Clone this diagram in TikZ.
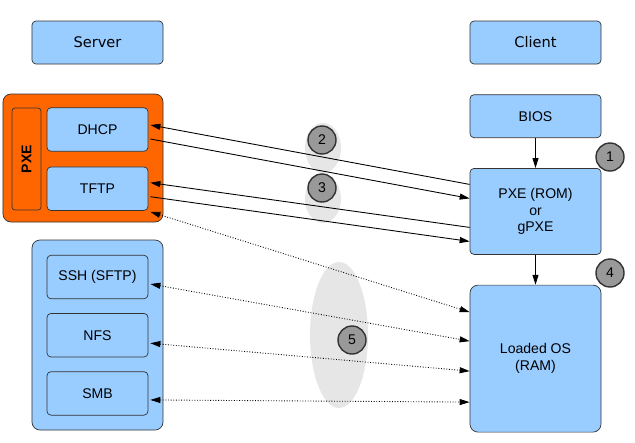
\documentclass[tikz,border=0pt]{standalone}
\usepackage{fontspec}
\setmainfont{Liberation Sans}
\newfontfamily\headfont{DejaVu Sans}
\usepackage{xcolor}
\usepackage{tikz}
\usetikzlibrary{arrows.meta, positioning}

\definecolor{boxblue}{HTML}{99CCFF}
\definecolor{pxeorange}{HTML}{FF6600}
\definecolor{stepgray}{HTML}{999999}
\definecolor{hazegray}{HTML}{E6E6E6}
\definecolor{edgegray}{HTML}{333333}

\begin{document}
\begin{tikzpicture}[x=0.2mm, y=-0.2mm, font=\fontsize{8}{9.5}\selectfont]
\tikzstyle{block} = [rectangle, draw=edgegray, fill=boxblue, minimum width=26.2mm, minimum height=8.6mm, rounded corners=0.8mm, align=center, inner sep=0pt]
\tikzstyle{service} = [block, minimum width=20.2mm, minimum height=8.7mm]
\tikzstyle{head} = [block, font=\headfont\fontsize{8.3}{10}\selectfont]
\tikzstyle{group} = [rectangle, draw=edgegray, rounded corners=1.6mm, inner sep=0pt]
\tikzstyle{marker} = [circle, draw=edgegray, thick, fill=stepgray, minimum size=5.6mm, inner sep=0pt]
\tikzstyle{link} = [line width=0.5pt, -{Triangle[length=2mm, width=1.2mm]}]
\tikzstyle{share} = [line width=0.5pt, densely dotted, {Triangle[length=2mm, width=1.2mm]}-{Triangle[length=2mm, width=1.2mm]}]

\useasboundingbox (0,0) rectangle (635,442);

% grey areas behind the step markers
\fill [hazegray] (323,148) ellipse [x radius=3.6mm, y radius=5mm];
\fill [hazegray] (323,199) ellipse [x radius=3.6mm, y radius=4.8mm];
\fill [hazegray] (339,335) ellipse [x radius=5.8mm, y radius=14.6mm];

% server side
\node (server) [head] at (97.5,42.5) {Server};
\node (pxegroup) [group, fill=pxeorange, minimum width=32mm, minimum height=25.6mm] at (83,158) {};
\node (pxelabel) [group, fill=pxeorange, rounded corners=0.6mm, rotate=90, minimum width=20.4mm, minimum height=5.8mm, font=\bfseries\fontsize{8}{9.5}\selectfont] at (26.5,159) {PXE};
\node (dhcp) [service] at (97.5,129.5) {DHCP};
\node (tftp) [service, below=3mm of dhcp] {TFTP};
\node (storegroup) [group, fill=boxblue, minimum width=26.2mm, minimum height=38mm] at (97.5,335) {};
\node (ssh) [service] at (97.5,277) {SSH (SFTP)};
\node (nfs) [service, below=2.8mm of ssh] {NFS};
\node (smb) [service, below=2.8mm of nfs] {SMB};

% client side
\node (client) [head] at (535.5,42.5) {Client};
\node (bios) [block, below=6mm of client] {BIOS};
\node (pxerom) [block, below=6mm of bios, minimum height=17.2mm] {PXE (ROM)\\or\\gPXE};
\node (loados) [block, below=6mm of pxerom, minimum height=29.4mm, rounded corners=1.6mm] {Loaded OS\\(RAM)};

\draw [link] (bios) -- (pxerom);
\draw [link] (pxerom) -- (loados);

\draw [link] ([yshift=5.4mm]pxerom.west) -- ([xshift=0.4mm, yshift=0.9mm]dhcp.east);
\draw [link] ([xshift=0.4mm, yshift=-1.9mm]dhcp.east) -- ([yshift=2.6mm]pxerom.west);
\draw [link] ([yshift=-3.2mm]pxerom.west) -- ([xshift=0.4mm, yshift=1.2mm]tftp.east);
\draw [link] ([xshift=0.4mm, yshift=-1.6mm]tftp.east) -- ([yshift=-6mm]pxerom.west);

\draw [share] ([xshift=0.4mm, yshift=-0.2mm]tftp.south east) -- ([yshift=9.3mm]loados.west);
\draw [share] ([xshift=0.4mm, yshift=-1.4mm]ssh.east) -- ([yshift=3.5mm]loados.west);
\draw [share] ([xshift=0.4mm, yshift=-1.6mm]nfs.east) -- ([yshift=-2.5mm]loados.west);
\draw [share] ([xshift=0.4mm, yshift=-1.3mm]smb.east) -- ([yshift=-8.7mm]loados.west);

\node (step1) [marker] at (610,157) {1};
\node (step2) [marker] at (322,140) {2};
\node (step3) [marker] at (322,188) {3};
\node (step4) [marker] at (610,273) {4};
\node (step5) [marker] at (352,340) {5};

\end{tikzpicture}
\end{document}
